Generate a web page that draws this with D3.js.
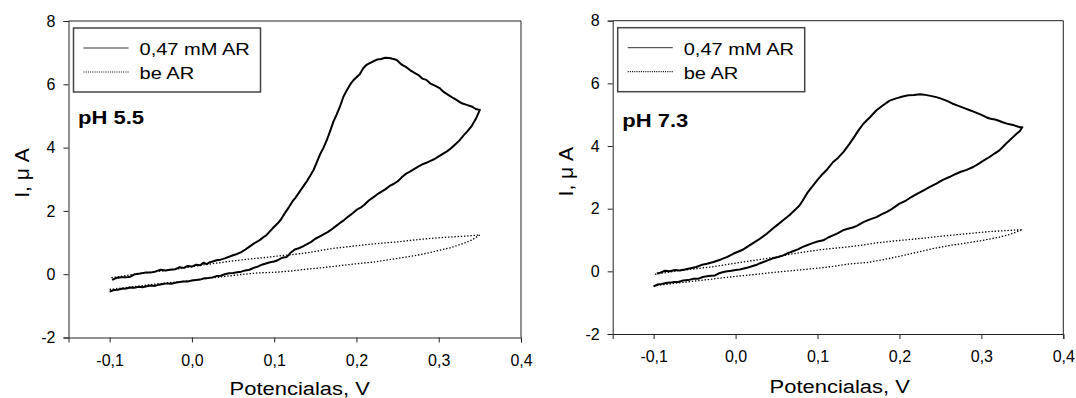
<!DOCTYPE html>
<html>
<head>
<meta charset="utf-8">
<script src="https://cdn.jsdelivr.net/npm/d3@7/dist/d3.min.js"></script>
<style>
  body { margin: 0; background: #fff; }
  svg { display: block; font-family: "Liberation Sans", Arial, sans-serif; }
</style>
</head>
<body>
<svg id="chart" width="1076" height="398"></svg>
<script>
// Tick values
var xTicks = [-0.1, 0.0, 0.1, 0.2, 0.3, 0.4];
var yTicks = [-2, 0, 2, 4, 6, 8];

// Legend labels
var seriesNames = ["0,47 mM AR", "be AR"];
var panelLabels = ["pH 5.5", "pH 7.3"];

// pH 5.5, 0.47 mM AR  [E (V), I (uA)] - forward branch then return branch
var ph55AR = [
  [-0.100,-0.55],[-0.095,-0.50],[-0.090,-0.49],[-0.085,-0.46],[-0.080,-0.45],[-0.075,-0.42],[-0.070,-0.43],
  [-0.065,-0.40],[-0.060,-0.41],[-0.055,-0.38],[-0.050,-0.36],[-0.045,-0.37],[-0.040,-0.33],[-0.035,-0.31],
  [-0.030,-0.29],[-0.025,-0.30],[-0.020,-0.27],[-0.015,-0.25],[-0.010,-0.23],[-0.005,-0.23],[0.000,-0.20],
  [0.005,-0.18],[0.010,-0.17],[0.015,-0.13],[0.020,-0.12],[0.025,-0.10],[0.030,-0.06],[0.035,-0.05],
  [0.040,0.00],[0.045,0.03],[0.050,0.04],[0.055,0.06],[0.060,0.08],[0.065,0.12],[0.070,0.14],[0.075,0.20],
  [0.080,0.24],[0.085,0.30],[0.090,0.34],[0.095,0.38],[0.100,0.40],[0.105,0.45],[0.110,0.52],[0.115,0.54],
  [0.118,0.62],[0.120,0.68],[0.125,0.78],[0.130,0.82],[0.135,0.88],[0.140,0.95],[0.145,1.02],[0.150,1.12],
  [0.155,1.19],[0.160,1.26],[0.165,1.33],[0.170,1.42],[0.175,1.52],[0.180,1.62],[0.185,1.71],[0.190,1.82],
  [0.195,1.92],[0.200,2.03],[0.205,2.10],[0.210,2.20],[0.215,2.33],[0.220,2.42],[0.225,2.52],[0.230,2.60],
  [0.235,2.68],[0.240,2.78],[0.245,2.85],[0.250,2.93],[0.255,3.06],[0.260,3.17],[0.265,3.24],[0.270,3.32],
  [0.275,3.40],[0.280,3.47],[0.285,3.52],[0.290,3.58],[0.295,3.64],[0.300,3.72],[0.305,3.80],[0.310,3.88],
  [0.315,3.98],[0.320,4.10],[0.325,4.22],[0.330,4.38],[0.335,4.52],[0.340,4.68],[0.345,4.90],[0.350,5.19],
  [0.345,5.22],[0.340,5.30],[0.334,5.35],[0.328,5.40],[0.322,5.50],[0.318,5.56],[0.312,5.66],[0.306,5.76],
  [0.301,5.88],[0.296,5.95],[0.290,6.02],[0.285,6.14],[0.280,6.18],[0.275,6.30],[0.270,6.37],[0.265,6.45],
  [0.260,6.55],[0.255,6.62],[0.249,6.77],[0.245,6.80],[0.240,6.83],[0.235,6.84],[0.230,6.80],[0.225,6.78],
  [0.220,6.72],[0.215,6.65],[0.212,6.61],[0.208,6.50],[0.204,6.32],[0.200,6.22],[0.196,6.12],[0.192,5.98],
  [0.188,5.80],[0.184,5.60],[0.180,5.30],[0.176,5.05],[0.172,4.82],[0.168,4.52],[0.164,4.24],[0.160,4.00],
  [0.156,3.80],[0.152,3.55],[0.148,3.30],[0.144,3.12],[0.140,2.95],[0.136,2.80],[0.131,2.61],[0.126,2.42],
  [0.122,2.29],[0.118,2.12],[0.113,1.93],[0.108,1.72],[0.104,1.60],[0.100,1.50],[0.095,1.36],[0.090,1.22],
  [0.088,1.19],[0.082,1.07],[0.076,0.98],[0.070,0.87],[0.065,0.78],[0.060,0.70],[0.055,0.64],[0.050,0.60],
  [0.046,0.56],[0.040,0.50],[0.035,0.46],[0.030,0.44],[0.025,0.40],[0.022,0.38],[0.018,0.32],[0.014,0.36],
  [0.010,0.28],[0.005,0.30],[0.000,0.24],[-0.005,0.26],[-0.010,0.20],[-0.015,0.22],[-0.020,0.16],[-0.027,0.14],
  [-0.032,0.12],[-0.038,0.14],[-0.045,0.08],[-0.051,0.05],[-0.057,0.05],[-0.063,0.02],[-0.069,0.00],
  [-0.075,-0.08],[-0.080,-0.10],[-0.086,-0.10],[-0.092,-0.12],[-0.097,-0.18]
];

// pH 5.5, be AR (blank)
var ph55Blank = [
  [-0.100,-0.48],[-0.080,-0.42],[-0.060,-0.36],[-0.040,-0.30],[-0.020,-0.25],[0.000,-0.20],[0.020,-0.13],
  [0.040,-0.07],[0.060,-0.01],[0.080,0.04],[0.100,0.06],[0.120,0.10],[0.140,0.16],[0.160,0.21],[0.180,0.27],
  [0.200,0.33],[0.220,0.38],[0.240,0.46],[0.260,0.54],[0.280,0.63],[0.300,0.75],[0.315,0.84],[0.330,0.97],
  [0.340,1.08],[0.350,1.24],
  [0.330,1.20],[0.310,1.17],[0.290,1.13],[0.270,1.08],[0.250,1.02],[0.230,0.98],[0.210,0.93],[0.190,0.87],
  [0.170,0.81],[0.150,0.72],[0.130,0.64],[0.110,0.59],[0.090,0.53],[0.070,0.48],[0.050,0.42],[0.030,0.35],
  [0.010,0.28],[-0.010,0.20],[-0.030,0.12],[-0.050,0.06],[-0.070,0.00],[-0.090,-0.08],[-0.100,-0.12]
];

// pH 7.3, 0.47 mM AR
var ph73AR = [
  [-0.100,-0.48],[-0.095,-0.42],[-0.090,-0.40],[-0.085,-0.37],[-0.080,-0.36],[-0.075,-0.34],[-0.070,-0.34],
  [-0.064,-0.29],[-0.058,-0.28],[-0.052,-0.24],[-0.046,-0.24],[-0.040,-0.18],[-0.035,-0.16],[-0.030,-0.14],
  [-0.025,-0.13],[-0.020,-0.06],[-0.015,-0.02],[-0.010,0.00],[-0.005,0.02],[0.000,0.04],[0.005,0.06],
  [0.010,0.09],[0.015,0.12],[0.020,0.16],[0.025,0.20],[0.030,0.26],[0.034,0.30],[0.040,0.36],[0.046,0.42],
  [0.052,0.46],[0.058,0.51],[0.064,0.58],[0.070,0.64],[0.076,0.70],[0.082,0.78],[0.088,0.84],[0.094,0.90],
  [0.100,0.95],[0.107,0.99],[0.113,1.08],[0.119,1.15],[0.125,1.22],[0.131,1.31],[0.137,1.36],[0.143,1.40],
  [0.148,1.45],[0.156,1.57],[0.164,1.66],[0.172,1.73],[0.178,1.82],[0.184,1.89],[0.190,1.98],[0.200,2.16],
  [0.208,2.26],[0.215,2.38],[0.222,2.48],[0.229,2.58],[0.236,2.68],[0.245,2.80],[0.253,2.92],[0.261,3.01],
  [0.268,3.10],[0.275,3.18],[0.282,3.24],[0.290,3.33],[0.297,3.44],[0.303,3.54],[0.310,3.65],[0.316,3.76],
  [0.322,3.86],[0.330,4.07],[0.336,4.22],[0.343,4.39],[0.347,4.48],[0.350,4.60],
  [0.347,4.60],[0.340,4.66],[0.333,4.70],[0.326,4.76],[0.318,4.84],[0.310,4.88],[0.306,4.92],[0.298,5.02],
  [0.292,5.08],[0.286,5.14],[0.280,5.20],[0.272,5.28],[0.265,5.35],[0.258,5.44],[0.250,5.52],[0.245,5.56],
  [0.238,5.60],[0.230,5.64],[0.225,5.65],[0.218,5.63],[0.211,5.62],[0.204,5.58],[0.196,5.52],[0.188,5.45],
  [0.180,5.30],[0.172,5.14],[0.164,4.92],[0.156,4.71],[0.150,4.50],[0.144,4.26],[0.139,4.07],[0.132,3.82],
  [0.125,3.62],[0.119,3.49],[0.112,3.26],[0.106,3.10],[0.100,2.92],[0.094,2.72],[0.088,2.52],[0.082,2.26],
  [0.078,2.10],[0.074,2.00],[0.066,1.80],[0.058,1.63],[0.048,1.42],[0.038,1.20],[0.028,1.01],[0.017,0.83],
  [0.008,0.68],[-0.003,0.56],[-0.010,0.46],[-0.018,0.38],[-0.027,0.30],[-0.035,0.24],[-0.042,0.20],
  [-0.048,0.14],[-0.055,0.10],[-0.062,0.06],[-0.068,0.03],[-0.074,0.04],[-0.080,0.00],[-0.086,0.02],
  [-0.092,-0.04],[-0.096,-0.07]
];

// pH 7.3, be AR (blank)
var ph73Blank = [
  [-0.100,-0.46],[-0.080,-0.40],[-0.060,-0.34],[-0.040,-0.28],[-0.020,-0.22],[0.000,-0.16],[0.020,-0.11],
  [0.040,-0.05],[0.060,0.00],[0.080,0.05],[0.100,0.10],[0.120,0.16],[0.140,0.24],[0.160,0.28],[0.180,0.37],
  [0.200,0.48],[0.220,0.60],[0.240,0.72],[0.260,0.82],[0.280,0.90],[0.300,0.98],[0.320,1.08],[0.335,1.18],
  [0.350,1.33],
  [0.330,1.30],[0.310,1.27],[0.290,1.22],[0.270,1.17],[0.250,1.12],[0.230,1.06],[0.210,1.01],[0.190,0.96],
  [0.170,0.90],[0.150,0.82],[0.130,0.76],[0.110,0.71],[0.090,0.64],[0.070,0.56],[0.050,0.46],[0.030,0.38],
  [0.010,0.30],[-0.010,0.22],[-0.030,0.14],[-0.050,0.08],[-0.070,0.02],[-0.090,-0.06],[-0.100,-0.10]
];

var svg = d3.select("#chart");

// text helper, the source picture has slightly wide lettering
function wideText(parent, x, y, str, size, sx, anchor, weight) {
  parent.append("g")
    .attr("transform", "translate(" + x + "," + y + ") scale(" + sx + ",1)")
    .append("text")
    .attr("text-anchor", anchor || "start")
    .style("font-size", size + "px")
    .style("font-weight", weight || "normal")
    .style("fill", "#000")
    .text(str);
}

function drawPanel(p) {
  var x = d3.scaleLinear().domain([-0.15, 0.4]).range([p.left, p.right]);
  var y = d3.scaleLinear().domain([-2, 8]).range([p.bottom, p.top]);
  var g = svg.append("g");

  // frame (top and right)
  g.append("path")
    .attr("d", "M" + p.left + "," + p.top + "H" + p.right + "V" + p.bottom)
    .attr("fill", "none")
    .attr("stroke", "#222")
    .attr("stroke-width", 1);

  // axes
  var xAxis = d3.axisBottom(x).tickValues(xTicks).tickSize(5).tickPadding(12)
    .tickFormat(function(d) { return d3.format(".1f")(d).replace("\u2212", "-").replace(".", ","); });
  var yAxis = d3.axisLeft(y).tickValues(yTicks).tickSize(5).tickPadding(8)
    .tickFormat(function(d) { return String(d); });

  g.append("g").attr("transform", "translate(0," + p.bottom + ")").call(xAxis);
  g.append("g").attr("transform", "translate(" + p.left + ",0)").call(yAxis);
  g.selectAll(".domain").attr("stroke", "#222");
  g.selectAll(".tick line").attr("stroke", "#222");
  g.selectAll(".tick text")
    .style("font-size", "16px")
    .style("font-family", "\"Liberation Sans\", Arial, sans-serif")
    .attr("fill", "#000");

  // curves
  var line = d3.line().x(function(d) { return x(d[0]); }).y(function(d) { return y(d[1]); });

  g.append("path")
    .datum(p.blank)
    .attr("d", line)
    .attr("fill", "none")
    .attr("stroke", "#000")
    .attr("stroke-width", 1.3)
    .attr("stroke-dasharray", "1.4,1.8");

  g.append("path")
    .datum(p.ar)
    .attr("d", line)
    .attr("fill", "none")
    .attr("stroke", "#000")
    .attr("stroke-width", 2)
    .attr("stroke-linejoin", "round");

  // legend box
  var lx = p.left + 5, ly = p.top + 7;
  g.append("rect")
    .attr("x", lx).attr("y", ly)
    .attr("width", 187).attr("height", 64)
    .attr("fill", "#fff")
    .attr("stroke", "#444")
    .attr("stroke-width", 1.5);

  g.append("line")
    .attr("x1", lx + 10).attr("x2", lx + 55)
    .attr("y1", ly + 20).attr("y2", ly + 20)
    .attr("stroke", "#333").attr("stroke-width", 1);
  g.append("line")
    .attr("x1", lx + 10).attr("x2", lx + 55)
    .attr("y1", ly + 44).attr("y2", ly + 44)
    .attr("stroke", "#000").attr("stroke-width", 1.2)
    .attr("stroke-dasharray", "1,1.2");

  wideText(g, lx + 66, ly + 27, seriesNames[0], 17, 1.18);
  wideText(g, lx + 66, ly + 51, seriesNames[1], 17, 1.18);

  // pH label
  wideText(g, p.left + 9.5, p.phY, p.label, 18.5, 1.19, "start", "bold");

  // axis titles
  wideText(g, p.xTitleX, p.xTitleY, "Potencialas, V", 18.6, 1.18, "middle");

  g.append("text")
    .attr("transform", "translate(" + p.yTitleX + "," + p.yTitleY + ") rotate(-90)")
    .attr("text-anchor", "middle")
    .style("font-size", "21px")
    .style("fill", "#000")
    .text("I, \u03bc A");
}

drawPanel({
  left: 68.5, right: 521, top: 21, bottom: 337.5,
  ar: ph55AR, blank: ph55Blank, label: panelLabels[0], phY: 123.5,
  xTitleX: 299.7, xTitleY: 395, yTitleX: 28.5, yTitleY: 173
});

drawPanel({
  left: 612.7, right: 1063.3, top: 20.7, bottom: 334,
  ar: ph73AR, blank: ph73Blank, label: panelLabels[1], phY: 126.5,
  xTitleX: 839.7, xTitleY: 393, yTitleX: 573, yTitleY: 171.7
});
</script>
</body>
</html>
